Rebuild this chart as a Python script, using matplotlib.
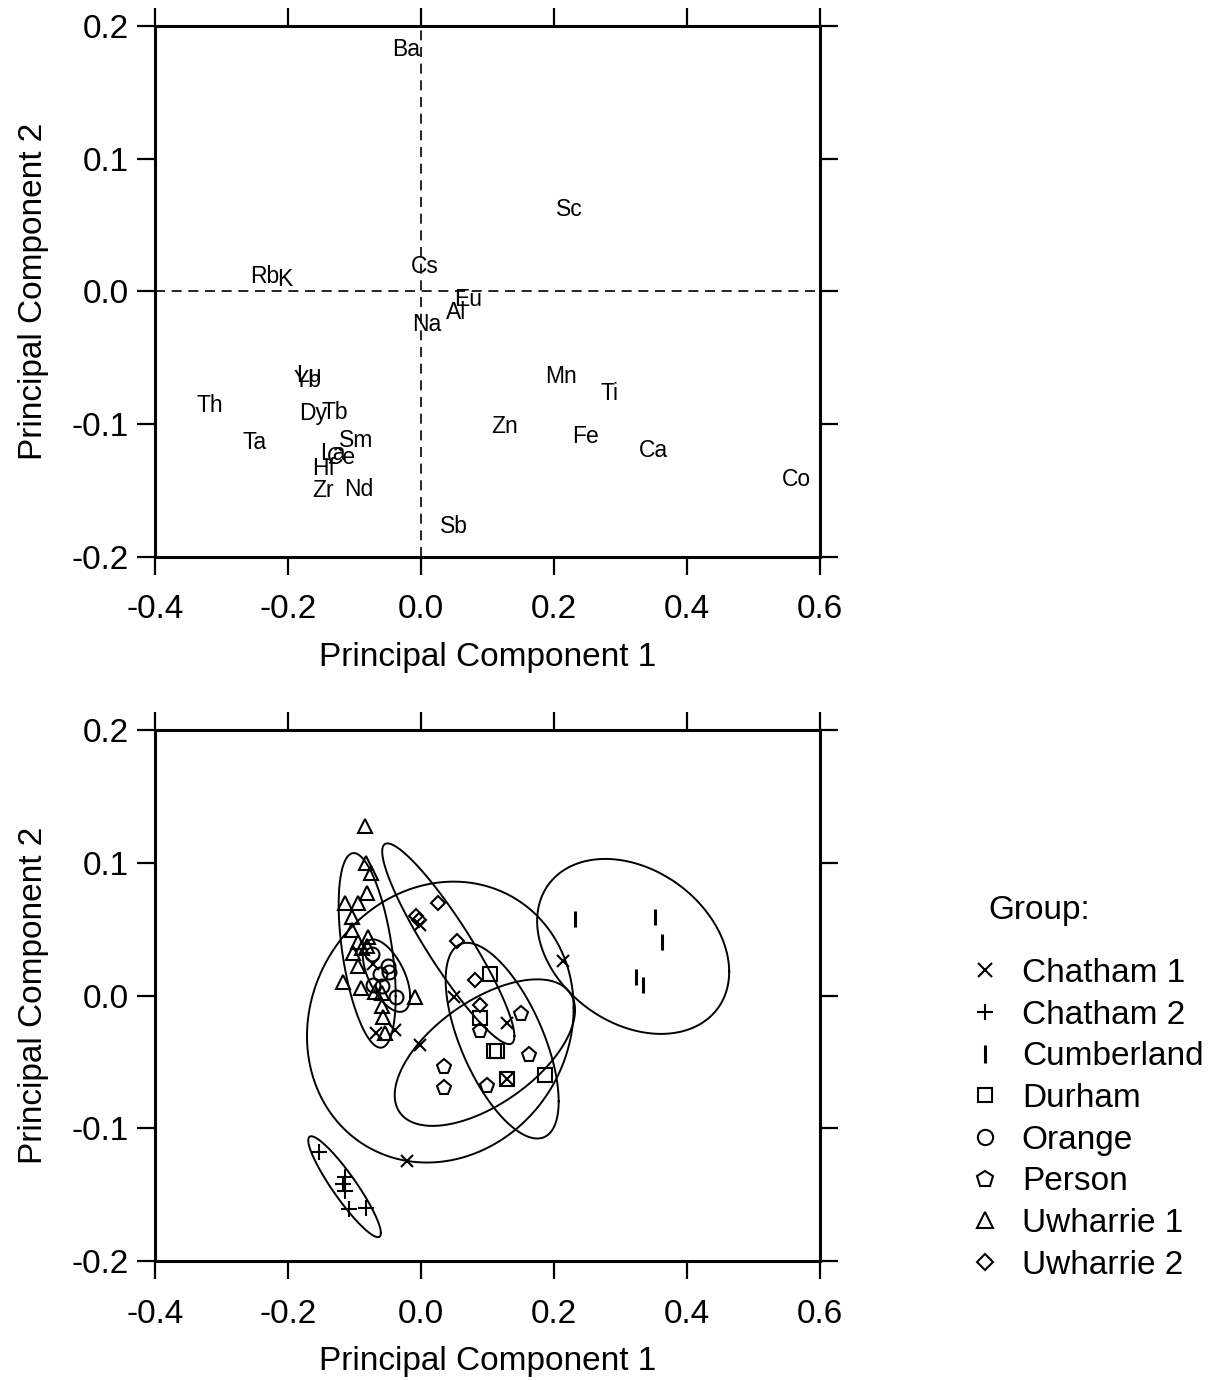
import numpy as np
import matplotlib
matplotlib.use('Agg')
import matplotlib.pyplot as plt
from matplotlib.lines import Line2D

plt.rcParams['font.family'] = ['Liberation Sans', 'DejaVu Sans']
plt.rcParams['axes.unicode_minus'] = False

# --- loadings (top panel) ---
elements = ['Ba', 'Sc', 'Rb', 'K', 'Cs', 'Eu', 'Al', 'Na', 'Lu', 'Yb', 'Th', 'Dy',
            'Tb', 'Ta', 'Sm', 'La', 'Ce', 'Hf', 'Zr', 'Nd', 'Sb', 'Mn', 'Ti', 'Zn',
            'Fe', 'Ca', 'Co']
load_pc1 = [-0.023, 0.223, -0.235, -0.205, 0.005, 0.071, 0.053, 0.009, -0.168, -0.171,
            -0.318, -0.163, -0.129, -0.250, -0.097, -0.132, -0.120, -0.147, -0.148,
            -0.094, 0.050, 0.211, 0.284, 0.125, 0.247, 0.350, 0.565]
load_pc2 = [0.182, 0.062, 0.011, 0.009, 0.019, -0.006, -0.016, -0.025, -0.063, -0.067,
            -0.086, -0.092, -0.091, -0.114, -0.112, -0.122, -0.125, -0.133, -0.150,
            -0.149, -0.177, -0.064, -0.077, -0.102, -0.109, -0.120, -0.142]

# --- scores (bottom panel) ---
groups = ['Chatham 1', 'Chatham 2', 'Cumberland', 'Durham', 'Orange', 'Person',
          'Uwharrie 1', 'Uwharrie 2']
c1_x = [-0.002, 0.214, 0.049, 0.130, -0.002, -0.039, -0.067, 0.129, -0.021, -0.072]
c1_y = [0.053, 0.026, -0.001, -0.021, -0.037, -0.026, -0.028, -0.063, -0.125, 0.024]
c2_x = [-0.153, -0.114, -0.117, -0.114, -0.109, -0.083]
c2_y = [-0.118, -0.137, -0.142, -0.147, -0.161, -0.160]
cu_x = [0.231, 0.352, 0.362, 0.324, 0.334]
cu_y = [0.058, 0.059, 0.040, 0.014, 0.008]
du_x = [0.103, 0.088, 0.110, 0.114, 0.129, 0.187]
du_y = [0.016, -0.017, -0.042, -0.042, -0.063, -0.060]
or_x = [-0.073, -0.049, -0.048, -0.062, -0.072, -0.059, -0.037]
or_y = [0.031, 0.022, 0.018, 0.016, 0.008, 0.007, -0.001]
pe_x = [0.150, 0.089, 0.163, 0.035, 0.035, 0.099]
pe_y = [-0.014, -0.027, -0.045, -0.054, -0.070, -0.068]
u1_x = [-0.084, -0.083, -0.075, -0.081, -0.114, -0.095, -0.104, -0.104, -0.080, -0.095,
        -0.089, -0.081, -0.102, -0.095, -0.117, -0.090, -0.069, -0.059, -0.059, -0.057,
        -0.054, -0.009]
u1_y = [0.128, 0.100, 0.092, 0.077, 0.070, 0.070, 0.059, 0.049, 0.044, 0.040, 0.036,
        0.037, 0.032, 0.022, 0.010, 0.006, 0.003, 0.002, -0.008, -0.016, -0.028, -0.001]
u2_x = [0.026, -0.008, -0.003, 0.054, 0.081, 0.089]
u2_y = [0.070, 0.060, 0.057, 0.041, 0.012, -0.007]

# confidence ellipses: centre x, centre y, half-extent x, half-extent y, correlation
ell_cx = [0.029, -0.115, 0.319, 0.122, -0.052, 0.096, -0.081, 0.041]
ell_cy = [-0.020, -0.144, 0.037, -0.034, 0.015, -0.043, 0.034, 0.039]
ell_hx = [0.2005, 0.0546, 0.1444, 0.0850, 0.0356, 0.1356, 0.0429, 0.0994]
ell_hy = [0.1058, 0.0380, 0.0659, 0.0737, 0.0273, 0.0552, 0.0733, 0.0756]
ell_rho = [0.10, -0.918, -0.29, -0.62, -0.57, 0.58, -0.47, -0.92]

xs = [c1_x, c2_x, cu_x, du_x, or_x, pe_x, u1_x, u2_x]
ys = [c1_y, c2_y, cu_y, du_y, or_y, pe_y, u1_y, u2_y]
markers = ['x', '+', '|', 's', 'o', 'p', '^', 'D']
msizes = [9, 11, 12, 9.5, 10, 11, 10.5, 7.2]

FS = 24


def style_axes(ax):
    ax.set_xlim(-0.4, 0.6)
    ax.set_ylim(-0.2, 0.2)
    ax.set_xticks(np.arange(-0.4, 0.61, 0.2))
    ax.set_yticks(np.arange(-0.2, 0.21, 0.1))
    ax.xaxis.set_major_formatter(plt.FormatStrFormatter('%.1f'))
    ax.yaxis.set_major_formatter(plt.FormatStrFormatter('%.1f'))
    ax.tick_params(direction='out', top=True, right=True, length=13, width=1.6,
                   labelsize=FS)
    ax.tick_params(axis='x', pad=14)
    ax.tick_params(axis='y', pad=6)
    for s in ax.spines.values():
        s.set_linewidth(2.2)
    ax.set_xlabel('Principal Component 1', fontsize=FS, labelpad=12)
    ax.set_ylabel('Principal Component 2', fontsize=FS, labelpad=16)


fig = plt.figure(figsize=(12.17, 13.8), dpi=100)
ax1 = fig.add_axes([0.1274, 0.5964, 0.5464, 0.3848])
ax2 = fig.add_axes([0.1274, 0.0862, 0.5464, 0.3848])

# top: loadings
ax1.axhline(0, color='k', lw=1.2, ls=(0, (6, 4)))
ax1.axvline(0, color='k', lw=1.2, ls=(0, (6, 4)))
for name, x, y in zip(elements, load_pc1, load_pc2):
    ax1.text(x, y, name, fontsize=16.5, ha='center', va='center')
style_axes(ax1)

# bottom: scores with ellipses
t = np.linspace(0, 2 * np.pi, 300)
for cx, cy, hx, hy, r in zip(ell_cx, ell_cy, ell_hx, ell_hy, ell_rho):
    ex = cx + hx * np.cos(t)
    ey = cy + hy * (r * np.cos(t) + np.sqrt(1 - r ** 2) * np.sin(t))
    ax2.plot(ex, ey, color='k', lw=1.4)

handles = []
for g, x, y, m, ms in zip(groups, xs, ys, markers, msizes):
    mew = 2.2 if m == '|' else 1.5
    ax2.plot(x, y, ls='none', marker=m, ms=ms, mfc='none', mec='k', mew=mew)
    handles.append(Line2D([], [], ls='none', marker=m, ms=ms * 1.1, mfc='none',
                          mec='k', mew=mew, label=g))
style_axes(ax2)

fig.text(988 / 1217, 1 - 910 / 1380, 'Group:', fontsize=FS, ha='left', va='center')
leg = fig.legend(handles=handles, loc='upper left', bbox_to_anchor=(0.7958, 0.3058),
                 frameon=False, fontsize=FS, handlelength=1.0, handletextpad=0.6,
                 labelspacing=0.32, borderpad=0, borderaxespad=0)

fig.savefig('out.png', dpi=100)
